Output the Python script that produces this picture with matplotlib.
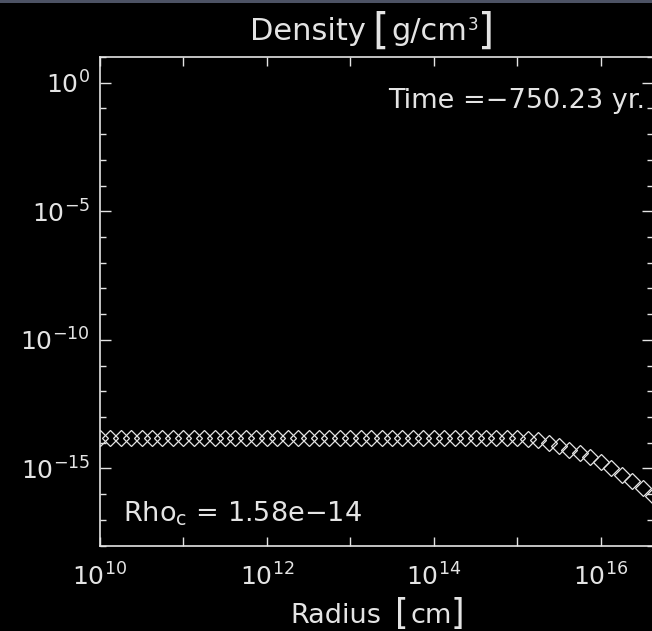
import matplotlib
matplotlib.use('Agg')
import matplotlib.pyplot as plt
from matplotlib.ticker import FixedLocator, FixedFormatter, NullFormatter
from matplotlib.patches import Rectangle

# ---- data ----
log_radius = [10.0, 10.125, 10.25, 10.375, 10.5, 10.625, 10.75, 10.875,
              11.0, 11.125, 11.25, 11.375, 11.5, 11.625, 11.75, 11.875,
              12.0, 12.125, 12.25, 12.375, 12.5, 12.625, 12.75, 12.875,
              13.0, 13.125, 13.25, 13.375, 13.5, 13.625, 13.75, 13.875,
              14.0, 14.125, 14.25, 14.375, 14.5, 14.625, 14.75, 14.875,
              15.0, 15.125, 15.25, 15.375, 15.5, 15.625, 15.75, 15.875,
              16.0, 16.125, 16.25, 16.375, 16.5, 16.625]
log_density = [-13.80, -13.80, -13.80, -13.80, -13.80, -13.80, -13.80, -13.80,
               -13.80, -13.80, -13.80, -13.80, -13.80, -13.80, -13.80, -13.80,
               -13.80, -13.80, -13.80, -13.80, -13.80, -13.80, -13.80, -13.80,
               -13.80, -13.80, -13.80, -13.80, -13.80, -13.80, -13.80, -13.80,
               -13.80, -13.80, -13.80, -13.80, -13.80, -13.80, -13.80, -13.81,
               -13.82, -13.85, -13.90, -14.01, -14.14, -14.27, -14.39, -14.54,
               -14.76, -14.97, -15.24, -15.51, -15.78, -16.06]

x_tick_exp = [10, 11, 12, 13, 14, 15, 16]
x_label_exp = [10, 12, 14, 16]
y_major_exp = [0, -5, -10, -15]
y_minor_exp = [1, -1, -2, -3, -4, -6, -7, -8, -9, -11, -12, -13, -14, -16, -17, -18]
x_range_exp = (10.0, 16.625)
y_range_exp = (-18, 1)

title_parts = ['Density', '[', 'g/cm', '3', ']']
xlabel_parts = ['Radius', '[', 'cm', ']']
time_text = 'Time =\u2212750.23 yr.'
rho_text = r'Rho$_\mathrm{c}$ = 1.58e' + '\u221214'

radius = [10.0 ** e for e in log_radius]
density = [10.0 ** e for e in log_density]

FG = '#e4e4e4'
W, H = 652, 631

plt.rcParams['font.family'] = ['DejaVu Sans']
plt.rcParams['mathtext.fontset'] = 'dejavusans'

fig = plt.figure(figsize=(W / 100, H / 100), dpi=100, facecolor='black')
left, right, top, bottom = 99.8, 653.0, 57.0, 545.5
ax = fig.add_axes([left / W, 1 - bottom / H, (right - left) / W, (bottom - top) / H])
ax.set_facecolor('black')

# thin grey screen border at the very top
fig.patches.append(Rectangle((0, 1 - 3 / H), 1, 3 / H, transform=fig.transFigure,
                             facecolor='#4c5264', edgecolor='none'))

ax.plot(radius, density, linestyle='none', marker='D', markersize=8.3,
        markerfacecolor='none', markeredgecolor=FG, markeredgewidth=0.9)

ax.set_xscale('log')
ax.set_yscale('log')
ax.set_xlim(10.0 ** x_range_exp[0], 10.0 ** x_range_exp[1])
ax.set_ylim(10.0 ** y_range_exp[0], 10.0 ** y_range_exp[1])

for s in ax.spines.values():
    s.set_color(FG)
    s.set_linewidth(1.2)

ax.xaxis.set_major_locator(FixedLocator([10.0 ** e for e in x_tick_exp]))
ax.xaxis.set_major_formatter(FixedFormatter(
    [r'$10^{%d}$' % e if e in x_label_exp else '' for e in x_tick_exp]))
ax.xaxis.set_minor_locator(FixedLocator([]))
ax.xaxis.set_minor_formatter(NullFormatter())

ax.yaxis.set_major_locator(FixedLocator([10.0 ** e for e in y_major_exp]))
ax.yaxis.set_major_formatter(FixedFormatter([r'$10^{%d}$' % e for e in y_major_exp]))
ax.yaxis.set_minor_locator(FixedLocator([10.0 ** e for e in y_minor_exp]))
ax.yaxis.set_minor_formatter(NullFormatter())

ax.tick_params(axis='x', which='major', direction='in', top=True, bottom=True,
               length=6.5, width=1.0, color=FG, labelcolor=FG, labelsize=18, pad=13)
ax.tick_params(axis='y', which='major', direction='in', left=True, right=True,
               length=8, width=1.0, color=FG, labelcolor=FG, labelsize=18, pad=7)
ax.tick_params(axis='y', which='minor', direction='in', left=True, right=True,
               length=4.3, width=1.0, color=FG)


def ptext(x, y, s, size, **kw):
    """Place text at pixel position (x from left, y baseline from top)."""
    fig.text(x / W, 1 - y / H, s, color=FG, fontsize=size, ha='left',
             va='baseline', **kw)


# title: Density [g/cm^3] with tall brackets
ptext(250, 40, title_parts[0], 22)
ptext(372, 44, title_parts[1], 30)
ptext(391, 40, title_parts[2], 22)
ptext(468, 30, title_parts[3], 12)
ptext(478, 44, title_parts[4], 30)

# x axis label: Radius [cm] with tall brackets
ptext(290, 623, xlabel_parts[0], 19.5)
ptext(395, 624, xlabel_parts[1], 25)
ptext(410, 623, xlabel_parts[2], 19.5)
ptext(451, 624, xlabel_parts[3], 25)

ptext(388, 108, time_text, 19.5)
ptext(123, 522, rho_text, 19.5)

fig.savefig('out.png', dpi=100, facecolor='black')
